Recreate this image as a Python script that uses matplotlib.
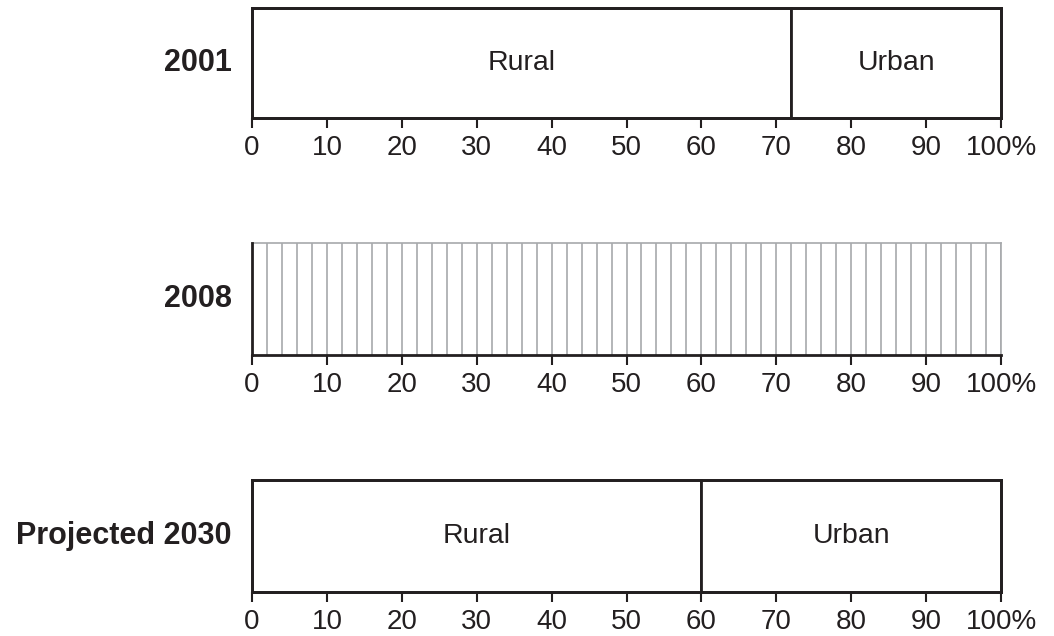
import matplotlib
matplotlib.use("Agg")
import matplotlib.pyplot as plt

plt.rcParams['font.family'] = ['Liberation Sans', 'DejaVu Sans']

years = ["2001", "2008", "Projected 2030"]
rural_share = [72, None, 60]
segment_labels = ["Rural", "Urban"]
xticks = [0, 10, 20, 30, 40, 50, 60, 70, 80, 90, 100]
xticklabels = ["0", "10", "20", "30", "40", "50", "60", "70", "80", "90", "100%"]
stripes_2008 = [2, 2, 2, 2, 2, 2, 2, 2, 2, 2, 2, 2, 2, 2, 2, 2, 2, 2, 2, 2, 2, 2, 2, 2, 2,
                2, 2, 2, 2, 2, 2, 2, 2, 2, 2, 2, 2, 2, 2, 2, 2, 2, 2, 2, 2, 2, 2, 2, 2, 2]

fig = plt.figure(figsize=(10.54, 6.36), dpi=100)
left = 252 / 1054
width = (1001 - 252) / 1054
boxes = [(8, 118), (243, 355), (480, 592)]

dark = "#231f20"
grey = "#a7a9ac"

for i, (yr, (top, bot)) in enumerate(zip(years, boxes)):
    ax = fig.add_axes([left, 1 - bot / 636, width, (bot - top) / 636])
    ax.set_xlim(0, 100)
    ax.set_ylim(0, 1)
    ax.set_yticks([])
    ax.set_xticks(xticks)
    ax.set_xticklabels(xticklabels, fontsize=20, color=dark)
    ax.tick_params(axis='x', direction='out', length=7, width=1.5, color=dark, pad=5)
    for s in ax.spines.values():
        s.set_linewidth(2)
        s.set_color(dark)
    r = rural_share[i]
    if r is not None:
        ax.barh(0.5, r, height=1, left=0, color="white", edgecolor=dark, linewidth=2, clip_on=False)
        ax.barh(0.5, 100 - r, height=1, left=r, color="white", edgecolor=dark, linewidth=2, clip_on=False)
        ax.text(r / 2, 0.5, segment_labels[0], ha="center", va="center", fontsize=20.5, color=dark)
        ax.text(r + (100 - r) / 2, 0.5, segment_labels[1], ha="center", va="center", fontsize=20.5, color=dark)
    else:
        ax.spines['top'].set_color(grey)
        ax.spines['top'].set_linewidth(1.2)
        ax.spines['right'].set_color(grey)
        ax.spines['right'].set_linewidth(1.2)
        pos = 0
        for w in stripes_2008:
            pos += w
            ax.axvline(pos, color=grey, linewidth=1.2, zorder=1)
        ax.spines['left'].set_zorder(5)
        ax.spines['bottom'].set_zorder(5)
    ax.text(-20 / 749 * 100, 0.5, yr, ha="right", va="center", fontsize=22,
            fontweight="bold", color=dark, transform=ax.transData, clip_on=False)

fig.savefig("out.png", dpi=100)
